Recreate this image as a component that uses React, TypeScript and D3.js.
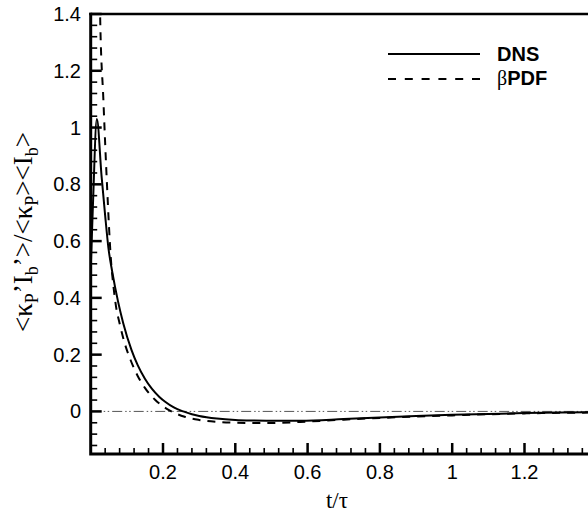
import React from "react";
import * as d3 from "d3";

const dnsT = [0, 0.006, 0.017, 0.03, 0.04, 0.049, 0.06, 0.076, 0.09, 0.113, 0.13, 0.15, 0.169, 0.19, 0.206, 0.23, 0.256, 0.28, 0.3, 0.349, 0.4, 0.45, 0.52, 0.58, 0.7, 0.8, 0.9, 1.0, 1.1, 1.2, 1.3, 1.4];
const dnsV = [0.5, 0.72, 1.03, 0.83, 0.69, 0.576, 0.489, 0.385, 0.311, 0.216, 0.163, 0.115, 0.08, 0.051, 0.034, 0.014, 0.0, -0.01, -0.016, -0.025, -0.03, -0.032, -0.033, -0.033, -0.027, -0.021, -0.016, -0.012, -0.009, -0.006, -0.004, -0.003];

const pdfT = [0.024, 0.026, 0.035, 0.045, 0.056, 0.063, 0.07, 0.08, 0.095, 0.11, 0.13, 0.15, 0.178, 0.2, 0.219, 0.26, 0.3, 0.35, 0.4, 0.45, 0.5, 0.58, 0.7, 0.8, 0.9, 1.0, 1.1, 1.2, 1.3, 1.4];
const pdfV = [1.6, 1.4, 1.1, 0.8, 0.534, 0.44, 0.37, 0.31, 0.236, 0.182, 0.125, 0.083, 0.041, 0.018, 0.003, -0.019, -0.03, -0.037, -0.04, -0.041, -0.041, -0.037, -0.029, -0.023, -0.018, -0.014, -0.01, -0.007, -0.005, -0.004];

const xTickLabels = ["0.2", "0.4", "0.6", "0.8", "1", "1.2"];
const yTickLabels = ["0", "0.2", "0.4", "0.6", "0.8", "1", "1.2", "1.4"];

const W = 588, H = 515;
const X0 = 90.7, X1 = 596.8, Y0 = 454, Y1 = 14;

export default function App() {
  const x = d3.scaleLinear().domain([0, 1.4]).range([X0, X1]);
  const y = d3.scaleLinear().domain([-0.15, 1.4]).range([Y0, Y1]);
  const line = d3
    .line<[number, number]>()
    .x((d) => x(d[0]))
    .y((d) => y(d[1]))
    .curve(d3.curveMonotoneX);
  const dns = dnsT.map((t, i) => [t, dnsV[i]] as [number, number]);
  const pdf = pdfT.map((t, i) => [t, pdfV[i]] as [number, number]);

  const xMinor = d3.range(1, 36).filter((i) => i % 5 !== 0).map((i) => i * 0.04);
  const yMinor = d3.range(-3, 36).filter((i) => i % 5 !== 0).map((i) => i * 0.04);
  const sans = "'Liberation Sans', Arial, Helvetica, sans-serif";
  const serif = "'Liberation Serif', 'Times New Roman', serif";
  const tickColor = "#000";

  return (
    <svg width={W} height={H} style={{ position: "absolute", left: 0, top: 0, background: "#fff" }}>
      <defs>
        <clipPath id="plotclip">
          <rect x={X0} y={Y1} width={X1 - X0} height={Y0 - Y1} />
        </clipPath>
      </defs>
      <rect x={0} y={0} width={W} height={H} fill="#fff" />
      <line x1={X0} x2={X1} y1={y(0)} y2={y(0)} stroke="#555" strokeWidth={1} strokeDasharray="10,3,1.5,2.5,1.5,3" />
      <g clipPath="url(#plotclip)">
        <path d={line(dns) || ""} fill="none" stroke="#000" strokeWidth={2} />
        <path d={line(pdf) || ""} fill="none" stroke="#000" strokeWidth={2} strokeDasharray="8,7" />
      </g>
      <path
        d={`M${X0},${Y1 - 1.2}V${Y0 + 1.5}M${X0 - 1.5},${Y0}H${X1}M${X1},${Y0}V${Y1}`}
        fill="none"
        stroke="#000"
        strokeWidth={3}
      />
      <path d={`M${X0 - 1.5},${Y1}H${X1}`} fill="none" stroke="#000" strokeWidth={2.5} />
      {xMinor.map((v, i) => (
        <rect key={"xm" + i} x={x(v) - 0.8} y={Y0 - 6} width={1.6} height={6} fill={tickColor} />
      ))}
      {xTickLabels.map((s) => (
        <rect key={"xM" + s} x={x(+s) - 1.25} y={Y0 - 11} width={2.5} height={11} fill={tickColor} />
      ))}
      {yMinor.map((v, i) => (
        <rect key={"ym" + i} x={X0} y={y(v) - 0.8} width={6.5} height={1.6} fill={tickColor} />
      ))}
      {yTickLabels.map((s) => (
        <rect key={"yM" + s} x={X0} y={y(+s) - 1.25} width={11} height={2.5} fill={tickColor} />
      ))}
      {xTickLabels.map((s) => (
        <text key={"xt" + s} x={x(+s)} y={479} textAnchor="middle" fontFamily={sans} fontSize={20}>{s}</text>
      ))}
      {yTickLabels.map((s) => (
        <text key={"yt" + s} x={81} y={y(+s) + 7} textAnchor="end" fontFamily={sans} fontSize={20}>{s}</text>
      ))}
      <line x1={388} x2={480} y1={54} y2={54} stroke="#000" strokeWidth={2} />
      <line x1={388} x2={480} y1={79} y2={79} stroke="#000" strokeWidth={2} strokeDasharray="8,8.8" />
      <text x={497} y={60.5} fontFamily={sans} fontSize={20} fontWeight="bold">DNS</text>
      <text x={497} y={85} fontFamily={sans} fontSize={20}>
        <tspan fontFamily={serif}>β</tspan>
        <tspan fontWeight="bold">PDF</tspan>
      </text>
      <text x={337} y={508} textAnchor="middle" fontFamily={serif} fontSize={23}>t/τ</text>
      <text
        transform={`translate(32,${232}) rotate(-90)`}
        textAnchor="middle"
        fontFamily={serif}
        fontSize={27}
      >
        {"<κ"}
        <tspan fontSize={18} dy={6}>P</tspan>
        <tspan dy={-6}>{"’I"}</tspan>
        <tspan fontSize={18} dy={6}>b</tspan>
        <tspan dy={-6}>{"’>/<κ"}</tspan>
        <tspan fontSize={18} dy={6}>P</tspan>
        <tspan dy={-6}>{"><I"}</tspan>
        <tspan fontSize={18} dy={6}>b</tspan>
        <tspan dy={-6}>{">"}</tspan>
      </text>
    </svg>
  );
}
